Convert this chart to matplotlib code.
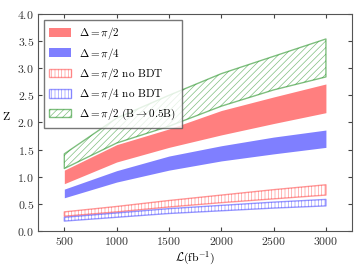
"""Significance Z versus integrated luminosity for the Delta scenarios."""

import matplotlib

matplotlib.use("Agg")
import matplotlib.pyplot as plt

plt.rcParams.update(
    {
        "font.family": "serif",
        "font.serif": ["cmr10"],
        "mathtext.fontset": "cm",
        "axes.formatter.use_mathtext": True,
        "font.size": 8.5,
        "hatch.linewidth": 0.5,
    }
)

lumi = [500, 1000, 1500, 2000, 2500, 3000]

# Delta = pi/2 (with BDT)
red_lo = [0.87, 1.27, 1.54, 1.77, 1.98, 2.18]
red_hi = [1.12, 1.59, 1.88, 2.22, 2.47, 2.71]
# Delta = pi/4 (with BDT)
blue_lo = [0.61, 0.90, 1.12, 1.29, 1.42, 1.54]
blue_hi = [0.77, 1.11, 1.38, 1.57, 1.73, 1.86]
# no BDT
red_nb_lo = [0.27, 0.35, 0.44, 0.52, 0.59, 0.66]
red_nb_hi = [0.35, 0.45, 0.56, 0.66, 0.76, 0.85]
blue_nb_lo = [0.18, 0.25, 0.32, 0.37, 0.42, 0.46]
blue_nb_hi = [0.25, 0.33, 0.41, 0.47, 0.53, 0.58]
# Delta = pi/2, B -> 0.5B
green_lo = [1.15, 1.62, 1.93, 2.30, 2.60, 2.84]
green_hi = [1.42, 2.08, 2.50, 2.90, 3.22, 3.54]

fig = plt.figure(figsize=(3.6, 2.7), dpi=100)
ax = fig.add_axes([0.106, 0.145, 0.872, 0.803])

ax.fill_between(lumi, red_lo, red_hi, color="r", alpha=0.5, lw=0,
                label=r"$\Delta=\pi/2$")
ax.fill_between(lumi, blue_lo, blue_hi, color="b", alpha=0.5, lw=0,
                label=r"$\Delta=\pi/4$")
ax.fill_between(lumi, red_nb_lo, red_nb_hi, facecolor="none", edgecolor="r",
                hatch="|||||", alpha=0.4, lw=1.0,
                label=r"$\Delta=\pi/2$ no BDT")
ax.fill_between(lumi, blue_nb_lo, blue_nb_hi, facecolor="none", edgecolor="b",
                hatch="|||||", alpha=0.4, lw=1.0,
                label=r"$\Delta=\pi/4$ no BDT")
ax.fill_between(lumi, green_lo, green_hi, facecolor="none", edgecolor="g",
                hatch="/////", alpha=0.5, lw=1.0,
                label=r"$\Delta=\pi/2\ (\mathrm{B}\rightarrow0.5\mathrm{B})$")

ax.set_xlim(250, 3250)
ax.set_ylim(0, 4)
ax.set_xticks([500, 1000, 1500, 2000, 2500, 3000])
ax.set_yticks([0.0, 0.5, 1.0, 1.5, 2.0, 2.5, 3.0, 3.5, 4.0])
ax.set_xlabel(r"$\mathcal{L}(\mathrm{fb}^{-1})$", labelpad=2)
ax.set_ylabel("Z", rotation=0, labelpad=8)
ax.tick_params(direction="in", top=True, right=True, length=3, colors="#444444",
               labelcolor="#333333", pad=3)
for spine in ax.spines.values():
    spine.set_color("#555555")

leg = ax.legend(loc="upper left", fancybox=False, edgecolor="#555555",
                fontsize=8, handlelength=2.0, handleheight=0.8,
                labelspacing=0.4, borderpad=0.5, handletextpad=0.7)
leg.get_frame().set_linewidth(1.0)

fig.savefig("out.png", dpi=100)
